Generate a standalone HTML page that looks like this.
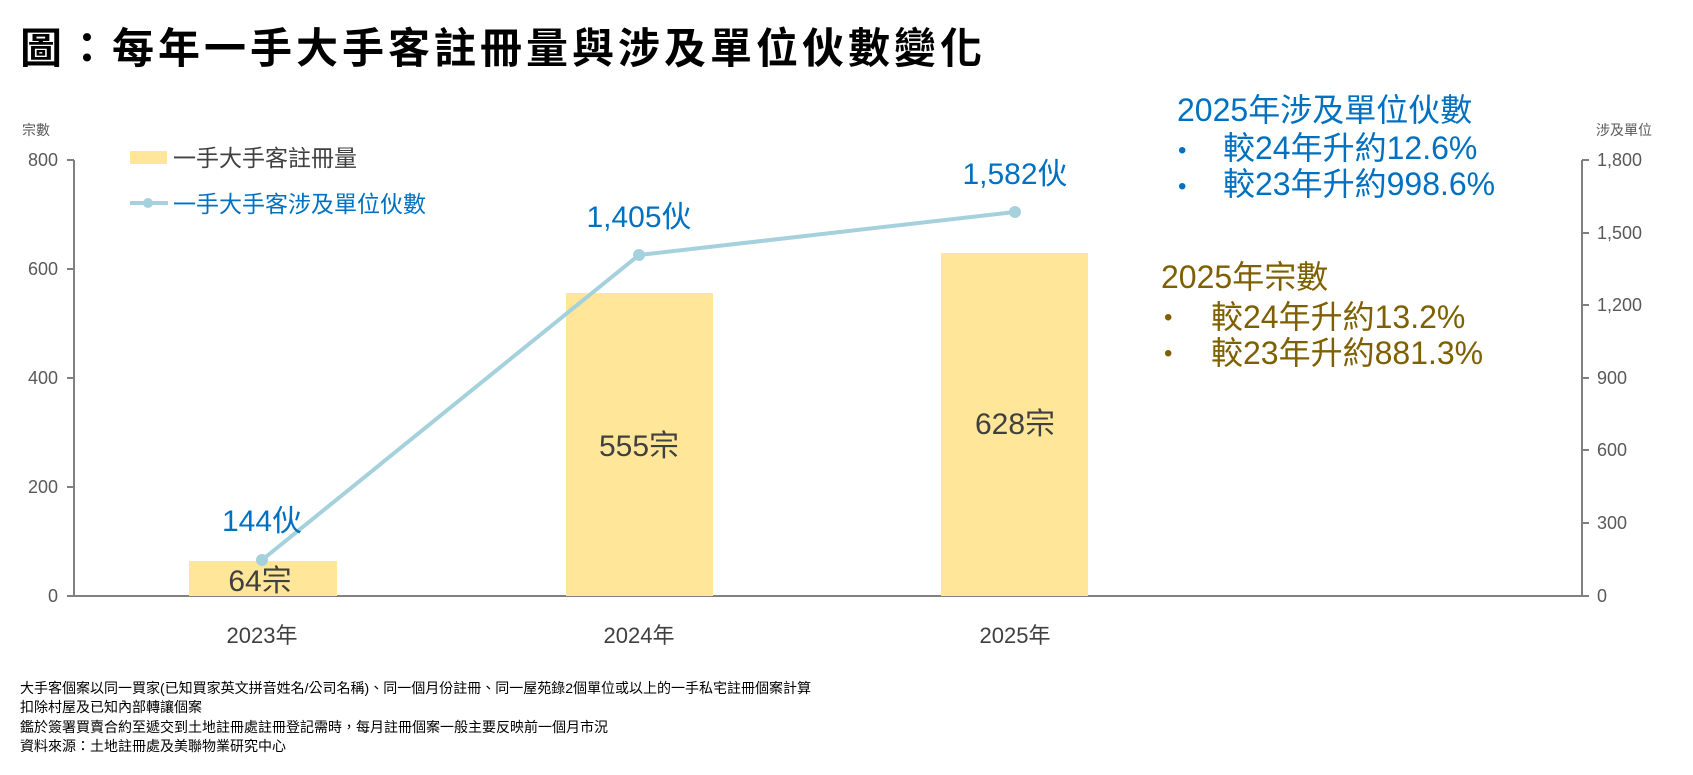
<!DOCTYPE html>
<html><head><meta charset="utf-8"><style>
body{margin:0;background:#fff;}
svg{display:block;font-family:"Liberation Sans","Noto Sans CJK TC",sans-serif;}
</style></head><body>
<svg width="1693" height="775" viewBox="0 0 1693 775" xmlns="http://www.w3.org/2000/svg">
<text x="20" y="63" font-size="42" font-weight="bold" fill="#000" letter-spacing="4">圖：每年一手大手客註冊量與涉及單位伙數變化</text>
<!-- axes -->
<text x="22" y="135" font-size="14" fill="#595959">宗數</text>
<text x="1596" y="135" font-size="14" fill="#595959">涉及單位</text>
<g stroke="#808080" stroke-width="2" fill="none">
<line x1="74" y1="160" x2="74" y2="596"/>
<line x1="67" y1="596" x2="1582" y2="596"/>
<line x1="1582" y1="160" x2="1582" y2="596"/>
<line x1="67" y1="160" x2="74" y2="160"/><line x1="67" y1="269" x2="74" y2="269"/>
<line x1="67" y1="378" x2="74" y2="378"/><line x1="67" y1="487" x2="74" y2="487"/>
<line x1="1582" y1="160" x2="1589" y2="160"/><line x1="1582" y1="233" x2="1589" y2="233"/>
<line x1="1582" y1="305" x2="1589" y2="305"/><line x1="1582" y1="378" x2="1589" y2="378"/>
<line x1="1582" y1="450" x2="1589" y2="450"/><line x1="1582" y1="523" x2="1589" y2="523"/>
<line x1="1582" y1="596" x2="1589" y2="596"/>
</g>
<g font-size="18" fill="#595959" text-anchor="end">
<text x="58" y="166">800</text><text x="58" y="275">600</text><text x="58" y="384">400</text>
<text x="58" y="493">200</text><text x="58" y="602">0</text>
</g>
<g font-size="18" fill="#595959">
<text x="1597" y="166">1,800</text><text x="1597" y="239">1,500</text><text x="1597" y="311">1,200</text>
<text x="1597" y="384">900</text><text x="1597" y="456">600</text><text x="1597" y="529">300</text>
<text x="1597" y="602">0</text>
</g>
<!-- bars -->
<g fill="#ffe699">
<rect x="189" y="561" width="148" height="35"/>
<rect x="566" y="293" width="147" height="303"/>
<rect x="941" y="253" width="147" height="343"/>
</g>
<!-- line -->
<polyline points="262,560 639,255 1015,212" fill="none" stroke="#a5d1dd" stroke-width="4"/>
<g fill="#a5d1dd"><circle cx="262" cy="560" r="6"/><circle cx="639" cy="255" r="6"/><circle cx="1015" cy="212" r="6"/></g>
<!-- labels -->
<g font-size="30" fill="#0070c0" text-anchor="middle">
<text x="262" y="531">144伙</text><text x="639" y="227">1,405伙</text><text x="1015" y="184">1,582伙</text>
</g>
<g font-size="30" fill="#404040" text-anchor="middle">
<text x="260" y="591">64宗</text><text x="639" y="456">555宗</text><text x="1015" y="434">628宗</text>
</g>
<g font-size="22" fill="#404040" text-anchor="middle">
<text x="262" y="643">2023年</text><text x="639" y="643">2024年</text><text x="1015" y="643">2025年</text>
</g>
<!-- legend -->
<rect x="130" y="151" width="37" height="13" fill="#ffe699"/>
<text x="173" y="166" font-size="23" fill="#404040">一手大手客註冊量</text>
<line x1="130" y1="203" x2="168" y2="203" stroke="#a5d1dd" stroke-width="4"/>
<circle cx="148" cy="203" r="5" fill="#a5d1dd"/>
<text x="173" y="212" font-size="23" fill="#0070c0">一手大手客涉及單位伙數</text>
<!-- annotations -->
<g font-size="32" fill="#0070c0">
<text x="1177" y="121">2025年涉及單位伙數</text>
<text x="1178" y="158" font-size="24">•</text><text x="1223" y="159">較24年升約12.6%</text>
<text x="1178" y="194" font-size="24">•</text><text x="1223" y="195">較23年升約998.6%</text>
</g>
<g font-size="32" fill="#7f6000">
<text x="1161" y="288">2025年宗數</text>
<text x="1164" y="325" font-size="24">•</text><text x="1211" y="328">較24年升約13.2%</text>
<text x="1164" y="361" font-size="24">•</text><text x="1211" y="364">較23年升約881.3%</text>
</g>
<g font-size="14" fill="#000">
<text x="20" y="693">大手客個案以同一買家(已知買家英文拼音姓名/公司名稱)、同一個月份註冊、同一屋苑錄2個單位或以上的一手私宅註冊個案計算</text>
<text x="20" y="712">扣除村屋及已知內部轉讓個案</text>
<text x="20" y="732">鑑於簽署買賣合約至遞交到土地註冊處註冊登記需時，每月註冊個案一般主要反映前一個月市況</text>
<text x="20" y="751">資料來源：土地註冊處及美聯物業研究中心</text>
</g>
</svg>
</body></html>
